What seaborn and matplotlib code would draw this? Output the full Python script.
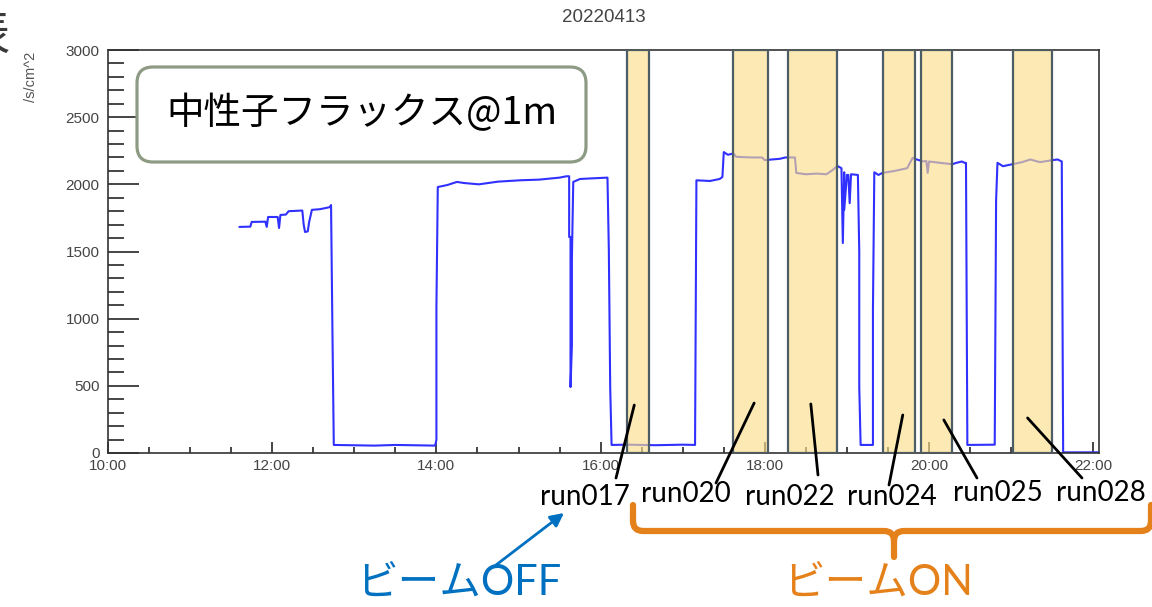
import matplotlib
matplotlib.use("Agg")
import matplotlib.pyplot as plt
import matplotlib.ticker as mticker
from matplotlib.patches import FancyBboxPatch, PathPatch
from matplotlib.path import Path
import numpy as np
import pandas as pd
import seaborn as sns

# ---- data ----
times = [
    "11:36", "11:44", "11:45", "11:55", "11:56", "11:57", "12:04", "12:05", "12:06", "12:10",
    "12:12", "12:22", "12:23", "12:24", "12:26", "12:27", "12:29", "12:35", "12:42", "12:43",
    "12:44", "12:45", "13:15", "13:30", "13:59", "14:00", "14:00", "14:01", "14:08", "14:15",
    "14:20", "14:31", "14:45", "15:01", "15:15", "15:30", "15:35", "15:37", "15:37", "15:38",
    "15:38", "15:39", "15:39", "15:40", "15:45", "15:55", "16:05", "16:06", "16:07", "16:08",
    "16:20", "16:40", "17:00", "17:09", "17:10", "17:20", "17:27", "17:29", "17:30", "17:33",
    "17:37", "17:39", "17:50", "17:58", "18:00", "18:05", "18:11", "18:15", "18:22", "18:23",
    "18:30", "18:38", "18:45", "18:50", "18:53", "18:56", "18:57", "18:58", "18:58", "19:00",
    "19:01", "19:02", "19:03", "19:08", "19:09", "19:09", "19:10", "19:19", "19:19", "19:20",
    "19:23", "19:26", "19:35", "19:44", "19:48", "19:51", "19:56", "19:58", "19:59", "20:00",
    "20:08", "20:17", "20:20", "20:24", "20:26", "20:27", "20:28", "20:48", "20:49", "20:50",
    "20:54", "21:01", "21:08", "21:14", "21:21", "21:30", "21:34", "21:37", "21:38", "22:04",
]
flux = [
    1683, 1685, 1720, 1722, 1683, 1757, 1757, 1675, 1772, 1775,
    1800, 1805, 1700, 1645, 1650, 1720, 1810, 1815, 1830, 1846,
    916, 60, 55, 60, 55, 97, 1087, 1980, 1995, 2018,
    2010, 2000, 2020, 2030, 2035, 2050, 2060, 2060, 1608, 1608,
    491, 800, 1440, 2018, 2040, 2045, 2050, 1511, 490, 60,
    62, 58, 62, 60, 2030, 2025, 2040, 2055, 2240, 2220,
    2230, 2205, 2200, 2200, 2180, 2185, 2190, 2200, 2200, 2085,
    2075, 2080, 2075, 2110, 2137, 2120, 1563, 2090, 1810, 2070,
    2070, 1860, 2075, 2070, 1497, 491, 60, 60, 1065, 2090,
    2070, 2085, 2100, 2120, 2197, 2185, 2170, 2175, 2085, 2170,
    2160, 2150, 2160, 2170, 2160, 2160, 60, 62, 1880, 2160,
    2135, 2150, 2165, 2185, 2165, 2180, 2185, 2170, 5, 5,
]

# beam-on periods (start, end)
beam_start = ["16:19", "17:37", "18:17", "19:26", "19:54", "21:01"]
beam_end = ["16:35", "18:02", "18:53", "19:50", "20:17", "21:30"]
run_names = ["run017", "run020", "run022", "run024", "run025", "run028"]


def to_hours(hhmm):
    t = pd.to_datetime(pd.Series(hhmm), format="%H:%M")
    return (t.dt.hour + t.dt.minute / 60.0).to_numpy()


df = pd.DataFrame({"hour": to_hours(times), "flux": flux})
b0 = to_hours(beam_start)
b1 = to_hours(beam_end)

# ---- layout ----
W, H = 1152, 607


def px(x, y):
    # image pixel -> inches (for dpi_scale_trans)
    return x / 100.0, (H - y) / 100.0


sns.set_style("ticks")
plt.rcParams["font.family"] = ["Liberation Sans", "DejaVu Sans"]

fig = plt.figure(figsize=(W / 100, H / 100), dpi=100)
ax = fig.add_axes([108 / W, 1 - 453 / H, (1099 - 108) / W, (453 - 50) / H])

sns.lineplot(data=df, x="hour", y="flux", sort=False, estimator=None,
             color="#3030ff", lw=1.5, ax=ax, zorder=2)

for s, e in zip(b0, b1):
    ax.axvspan(s, e, facecolor=(0.99, 0.87, 0.54, 0.65), edgecolor="#4d5d66",
               lw=1.6, zorder=3)

ax.set_xlim(10, 22.07)
ax.set_ylim(0, 3000)
ax.xaxis.set_major_locator(mticker.MultipleLocator(2))
ax.xaxis.set_minor_locator(mticker.MultipleLocator(0.5))
ax.xaxis.set_major_formatter(mticker.FuncFormatter(lambda v, _: f"{int(round(v)):02d}:00"))
ax.yaxis.set_major_locator(mticker.MultipleLocator(500))
ax.yaxis.set_minor_locator(mticker.MultipleLocator(100))
ax.tick_params(axis="x", which="major", direction="in", length=8, width=1.2,
               labelsize=11, pad=4, labelcolor="#444444")
ax.tick_params(axis="x", which="minor", direction="in", length=4.5, width=1.2)
ax.tick_params(axis="y", which="major", direction="in", length=22, width=1.2,
               labelsize=11, pad=6, labelcolor="#444444")
ax.tick_params(axis="y", which="minor", direction="in", length=11.5, width=1.2)
for sp in ax.spines.values():
    sp.set_color("#333333")
    sp.set_linewidth(1.2)
ax.set_xlabel("")
ax.set_ylabel("")
ax.set_title("20220413", fontsize=13.5, color="#444444", pad=20)

tr = fig.dpi_scale_trans
fig.text(*px(31, 52), "/s/cm^2", rotation=90, ha="center", va="top",
         fontsize=10.5, color="#555555", transform=tr)

# slide fragment at top-left corner
fig.text(*px(10, 36), "表", ha="right", va="center", fontsize=34, color="#3a3a3a",
         family=["Noto Sans CJK JP"], transform=tr)

# label box
bx0, by0 = px(137, 162)
box = FancyBboxPatch((bx0, by0), (586 - 137) / 100, (162 - 67) / 100,
                     boxstyle="round,pad=0,rounding_size=0.16", transform=tr,
                     fc="white", ec="#8e9b84", lw=2.3, zorder=5)
fig.add_artist(box)
fig.text(*px(362, 114), "中性子フラックス@1m", ha="center", va="center",
         fontsize=27, family=["Noto Sans CJK JP"], color="black",
         transform=tr, zorder=6)

# run labels with pointer lines
label_pos = [(585, 497), (686, 494), (790, 497), (892, 497), (998, 493), (1101, 493)]
line_start = [(616, 478), (716, 483), (818, 475), (889, 485), (977, 478), (1082, 478)]
line_end = [(16.41, 357), (17.87, 372), (18.56, 365), (19.68, 283), (20.18, 246), (21.20, 261)]
for name, lp, ls, le in zip(run_names, label_pos, line_start, line_end):
    fig.text(*px(*lp), name, ha="center", va="center", fontsize=20,
             family=["Lato", "DejaVu Sans"], color="black", transform=tr)
    ax.annotate("", xy=le, xycoords="data", xytext=px(*ls), textcoords=tr,
                arrowprops=dict(arrowstyle="-", color="black", lw=2,
                                shrinkA=0, shrinkB=0), annotation_clip=False, zorder=6)

# orange brace
pts = [(633, 505), (633, 521), (633, 531), (643, 531), (884, 531), (894, 531), (894, 541),
       (894, 557), (894, 541), (894, 531), (904, 531), (1141, 531), (1151, 531), (1151, 521),
       (1151, 505)]
codes = [Path.MOVETO, Path.LINETO, Path.CURVE3, Path.CURVE3, Path.LINETO, Path.CURVE3,
         Path.CURVE3, Path.LINETO, Path.MOVETO, Path.CURVE3, Path.CURVE3, Path.LINETO,
         Path.CURVE3, Path.CURVE3, Path.LINETO]
brace = PathPatch(Path([px(*p) for p in pts], codes), transform=tr, fill=False,
                  ec="#e5811a", lw=4.5, capstyle="round", joinstyle="round")
fig.add_artist(brace)

# beam OFF / ON texts
fig.text(*px(459, 583), "ビームOFF", ha="center", va="center", fontsize=30,
         family=["Lato", "Noto Sans CJK JP"], color="#0070c0", transform=tr)
fig.text(*px(878, 583), "ビームON", ha="center", va="center", fontsize=30,
         family=["Lato", "Noto Sans CJK JP"], color="#e5811a", transform=tr)
ax.annotate("", xy=px(564, 513), xycoords=tr, xytext=px(496, 565), textcoords=tr,
            arrowprops=dict(arrowstyle="-|>", color="#0070c0", lw=2, mutation_scale=20,
                            shrinkA=0, shrinkB=0), annotation_clip=False)

fig.savefig("out.png", dpi=100)
